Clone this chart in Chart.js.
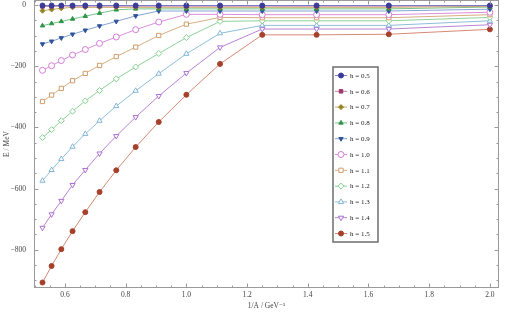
<!DOCTYPE html>
<html>
<head>
<meta charset="utf-8">
<script src="https://cdn.jsdelivr.net/npm/chart.js@4.4.0/dist/chart.umd.min.js"></script>
<style>
  html, body { margin: 0; padding: 0; background: #fff; overflow: hidden; }
  #chart { display: block; }
</style>
</head>
<body>
<canvas id="chart" width="509" height="322"></canvas>
<script>
// x = 1/A in GeV^-1
const invA = [0.526, 0.556, 0.588, 0.625, 0.667, 0.714, 0.769, 0.833, 0.909, 1.0, 1.111, 1.25, 1.429, 1.667, 2.0];

const hLabels = ['h = 0.5', 'h = 0.6', 'h = 0.7', 'h = 0.8', 'h = 0.9', 'h = 1.0',
                 'h = 1.1', 'h = 1.2', 'h = 1.3', 'h = 1.4', 'h = 1.5'];

// E / MeV for each h
const e05 = [-1, -1, -1, -1, -1, -1, -1, -1, -1, -1, -1, -1, -1, -1, -1];
const e06 = [-4, -4, -3, -3, -3, -3, -3, -3, -3, -3, -3, -3, -3, -3, -2];
const e07 = [-18, -14, -10, -7, -7, -7, -7, -7, -7, -7, -7, -7, -7, -7, -4];
const e08 = [-67, -60, -53, -45, -36, -26, -15, -12, -12, -12, -12, -12, -12, -12, -6];
const e09 = [-127, -118, -107, -95, -82, -68, -53, -35, -19, -19, -19, -19, -19, -19, -13];
const e10 = [-213, -198, -181, -163, -145, -125, -104, -80, -55, -30, -30, -31, -31, -31, -23];
const e11 = [-315, -294, -272, -247, -223, -197, -168, -137, -99, -62, -40, -41, -41, -41, -31];
const e12 = [-433, -407, -378, -347, -313, -279, -241, -202, -158, -106, -53, -51, -51, -51, -40];
const e13 = [-574, -539, -503, -463, -421, -378, -330, -280, -224, -159, -92, -66, -66, -66, -51];
const e14 = [-728, -684, -640, -588, -539, -485, -428, -366, -297, -222, -138, -78, -78, -78, -64];
const e15 = [-907, -853, -798, -739, -677, -611, -540, -464, -382, -293, -192, -97, -97, -95, -79];

const xTicks = [0.6, 0.8, 1.0, 1.2, 1.4, 1.6, 1.8, 2.0];
const yTicks = [-800, -600, -400, -200, 0];

const series = [e05, e06, e07, e08, e09, e10, e11, e12, e13, e14, e15];

// marker / line styles per h
const styles = [
  { line: '#7b7bc4', mark: '#3b3b9a', shape: 'circle',   rot: 0,   fill: true },
  { line: '#cf7aa6', mark: '#9a3b6e', shape: 'rect',     rot: 0,   fill: true },
  { line: '#c4b46a', mark: '#958426', shape: 'rectRot',  rot: 0,   fill: true },
  { line: '#78c38a', mark: '#2f9446', shape: 'triangle', rot: 0,   fill: true },
  { line: '#86a3d3', mark: '#2f539a', shape: 'triangle', rot: 180, fill: true },
  { line: '#dc8ede', mark: '#d37bd6', shape: 'circle',   rot: 0,   fill: false },
  { line: '#d8ad84', mark: '#cf9d6d', shape: 'rect',     rot: 0,   fill: false },
  { line: '#8fd29a', mark: '#86cf90', shape: 'rectRot',  rot: 0,   fill: false },
  { line: '#8dbedb', mark: '#82b6d6', shape: 'triangle', rot: 0,   fill: false },
  { line: '#b982d6', mark: '#ad70d0', shape: 'triangle', rot: 180, fill: false },
  { line: '#d68a74', mark: '#a5402a', shape: 'circle',   rot: 0,   fill: true }
];

const serif = "'Liberation Serif', 'DejaVu Serif', serif";
const fmtMinus = v => String(v).replace('-', '\u2212');

const datasets = series.map((vals, i) => {
  const s = styles[i];
  return {
    label: hLabels[i],
    data: vals.map((v, j) => ({ x: invA[j], y: v })),
    showLine: true,
    borderColor: s.line,
    borderWidth: 1,
    pointStyle: s.shape,
    pointRotation: s.rot,
    pointRadius: s.fill ? 2.5 : 3,
    pointBorderWidth: 1,
    pointBorderColor: s.mark,
    pointBackgroundColor: s.fill ? s.mark : '#ffffff'
  };
});

// chart.js keeps a few px above the plot; pull the canvas up so the frame sits at the top edge
const shiftPlugin = {
  id: 'shiftUp',
  afterLayout(chart) {
    chart.canvas.style.marginTop = -Math.ceil(chart.chartArea.top) + 'px';
  }
};

// frame with inward ticks on all four sides (Mathematica style)
const framePlugin = {
  id: 'frame',
  afterDatasetsDraw(chart) {
    const { ctx, chartArea: a, scales: { x, y } } = chart;
    const t = Math.ceil(a.top) + 0.5, b = Math.round(a.bottom) - 0.5;
    const l = Math.round(a.left) + 0.5, r = Math.round(a.right) - 0.5;
    ctx.save();
    ctx.strokeStyle = '#9a9a9a';
    ctx.lineWidth = 1;
    ctx.strokeRect(l, t, r - l, b - t);
    ctx.beginPath();
    for (let k = 0; k <= 30; k++) {
      const v = 0.5 + k * 0.05;
      const px = Math.round(x.getPixelForValue(v)) + 0.5;
      const len = (k % 4 === 2) ? 4 : 2;
      ctx.moveTo(px, b); ctx.lineTo(px, b - len);
      ctx.moveTo(px, t); ctx.lineTo(px, t + len);
    }
    for (let k = 0; k <= 18; k++) {
      const v = -900 + k * 50;
      const py = Math.round(y.getPixelForValue(v)) + 0.5;
      const len = (k % 4 === 2) ? 4 : 2;
      ctx.moveTo(l, py); ctx.lineTo(l + len, py);
      ctx.moveTo(r, py); ctx.lineTo(r - len, py);
    }
    ctx.stroke();
    ctx.restore();
  }
};

// legend box inside the plot
const legendPlugin = {
  id: 'boxLegend',
  afterDraw(chart) {
    const ctx = chart.ctx;
    const dy = Math.ceil(chart.chartArea.top);
    const bx = 333, by = 67 + dy, bw = 45, bh = 175;
    ctx.save();
    ctx.fillStyle = '#ffffff';
    ctx.fillRect(bx, by, bw, bh);
    ctx.strokeStyle = '#6e6e6e';
    ctx.lineWidth = 1.5;
    ctx.strokeRect(bx, by, bw, bh);
    chart.data.datasets.forEach((ds, i) => {
      const cy = 75.5 + dy + i * 15.8;
      ctx.strokeStyle = ds.borderColor;
      ctx.lineWidth = 1;
      ctx.beginPath();
      ctx.moveTo(335, cy); ctx.lineTo(347, cy);
      ctx.stroke();
      ctx.fillStyle = ds.pointBackgroundColor;
      ctx.strokeStyle = ds.pointBorderColor;
      Chart.helpers.drawPoint(ctx, {
        pointStyle: ds.pointStyle, rotation: ds.pointRotation,
        radius: ds.pointRadius, borderWidth: 1
      }, 341, cy);
      ctx.fillStyle = '#222';
      ctx.font = '7px ' + serif;
      ctx.textBaseline = 'middle';
      ctx.fillText(ds.label, 350, cy + 0.5);
    });
    ctx.restore();
  }
};

new Chart(document.getElementById('chart'), {
  type: 'scatter',
  data: { datasets },
  options: {
    responsive: false,
    animation: false,
    layout: { padding: { top: 0, right: 10, bottom: 0, left: 0 } },
    plugins: {
      legend: { display: false },
      tooltip: { enabled: false }
    },
    scales: {
      x: {
        type: 'linear',
        min: 0.498,
        max: 2.03,
        afterBuildTicks: s => { s.ticks = xTicks.map(v => ({ value: v })); },
        afterFit: s => { s.height = 29; },
        grid: { display: false, drawTicks: false },
        border: { display: false },
        ticks: {
          padding: 3,
          color: '#444',
          font: { family: serif, size: 7.5 },
          maxRotation: 0,
          callback: v => v.toFixed(1)
        },
        title: {
          display: true,
          text: '1/A / GeV\u207B\u00B9',
          color: '#444',
          font: { family: serif, size: 7.5 },
          padding: { top: 0, bottom: 6 }
        }
      },
      y: {
        type: 'linear',
        min: -925,
        max: 17,
        afterBuildTicks: s => { s.ticks = yTicks.map(v => ({ value: v })); },
        afterFit: s => { s.width = 34; },
        grid: { display: false, drawTicks: true, tickLength: 8 },
        border: { display: false },
        ticks: {
          padding: 0,
          color: '#444',
          font: { family: serif, size: 7.5 },
          callback: v => fmtMinus(v)
        },
        title: {
          display: true,
          text: 'E / MeV',
          color: '#444',
          font: { family: serif, size: 7.5 },
          padding: { top: 3, bottom: 0 }
        }
      }
    }
  },
  plugins: [shiftPlugin, framePlugin, legendPlugin]
});
</script>
</body>
</html>
